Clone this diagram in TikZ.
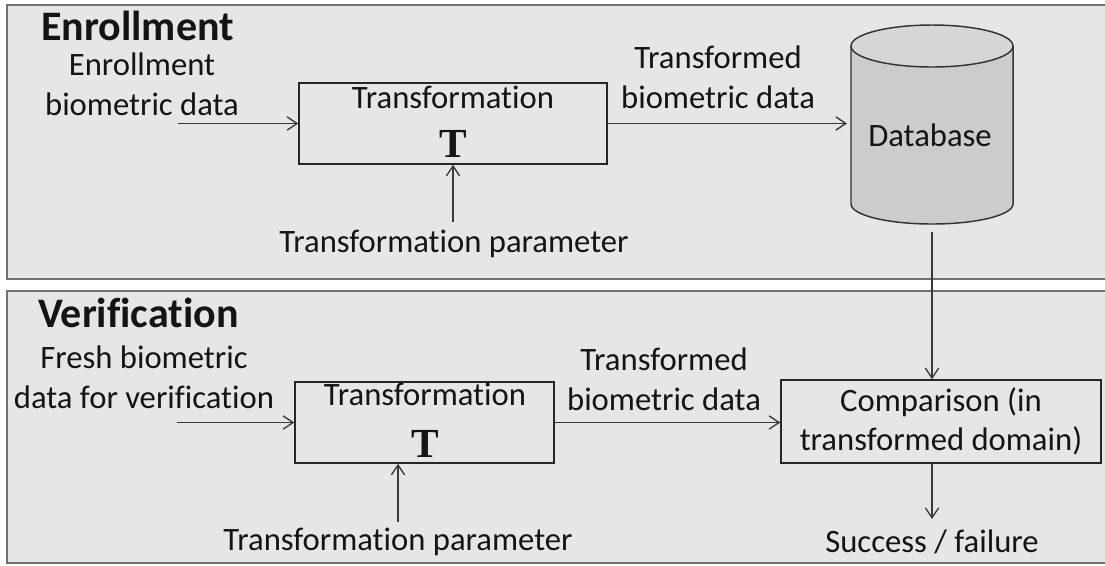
\documentclass[tikz,border=0pt]{standalone}
\usepackage{fontspec}
\setmainfont{Carlito}[Ligatures=NoCommon]
\newfontfamily\serifT{Liberation Serif}
\usetikzlibrary{arrows.meta}
\definecolor{panelfill}{HTML}{E6E6E6}
\definecolor{panelline}{HTML}{707070}
\definecolor{dbbody}{HTML}{CCCCCC}
\definecolor{dbtop}{HTML}{D6D6D6}
\definecolor{arrowc}{HTML}{3A3A3A}
\definecolor{txt}{HTML}{141414}
\begin{document}
\begin{tikzpicture}[x=0.75pt,y=-0.75pt,
  panel/.style={fill=panelfill,draw=panelline,line width=2.2pt},
  procbox/.style={draw=black!85,line width=1.1pt,inner sep=0pt,rectangle},
  lbl/.style={font=\fontsize{24.5}{29.5}\selectfont,align=center,inner sep=0pt,anchor=base,text=txt},
  paneltitle/.style={font=\fontsize{31.5}{36}\selectfont\bfseries,inner sep=0pt,anchor=base west,text=txt},
  bigT/.style={font=\fontsize{31}{36}\selectfont\serifT\bfseries,inner sep=0pt,anchor=base,text=txt},
  flow/.style={draw=arrowc,line width=1pt,-{Straight Barb[length=7.5pt,width=10pt]}},
]
\useasboundingbox (0,0) rectangle (1105,565);
\fill[white] (0,0) rectangle (1105,565);
% panels
\draw[panel] (7,5) rectangle (1112,279);
\draw[panel] (7,291) rectangle (1112,563);

% titles
\node[paneltitle] (ttl1) at (41,40) {Enrollment};
\node[paneltitle] (ttl2) at (38,327) {Verification};

% ---------- Enrollment ----------
\node[lbl] (src1) at (142,115) {Enrollment\\biometric data};
\node[procbox,minimum width=231pt,minimum height=60.75pt] (tf1) at (453,123.5) {};
\node[lbl] (tt1) at (453,108) {Transformation};
\node[bigT] (T1) at (453,157) {T};
\node[lbl] (par1) at (454,252) {Transformation parameter};
\node[lbl] (out1) at (718,108) {Transformed\\biometric data};

% database cylinder
\fill[dbbody] (851,46) -- (851,204) arc[start angle=180,end angle=0,x radius=81,y radius=20] -- (1013,46) -- cycle;
\draw[line width=1.1pt,draw=black!80] (851,46) -- (851,204) arc[start angle=180,end angle=0,x radius=81,y radius=20] -- (1013,46);
\filldraw[fill=dbtop,draw=black!80,line width=1.1pt] (932,46) ellipse [x radius=81,y radius=21];
\node[lbl] (db) at (930,146) {Database};

\coordinate (in1) at (178,123.5);
\coordinate (dbin) at (847,123.5);
\coordinate (p1) at (453,222);
\coordinate (dbout) at (932,232);

\draw[flow] (in1) -- (tf1.west);
\draw[flow] (tf1.east) -- (dbin);
\draw[flow] (p1) -- (tf1.south);

% ---------- Verification ----------
\node[lbl] (src2) at (144,408) {Fresh biometric\\data for verification};
\node[procbox,minimum width=194.25pt,minimum height=60.75pt] (tf2) at (424.5,422.5) {};
\node[lbl] (tt2) at (425,405) {Transformation};
\node[bigT] (T2) at (425,457) {T};
\node[lbl] (par2) at (398,550) {Transformation parameter};
\node[lbl] (out2) at (664,410) {Transformed\\biometric data};
\node[procbox,minimum width=240pt,minimum height=62.25pt,font=\fontsize{24.5}{29.5}\selectfont,align=center,text=txt] (cmp) at (941,421.5) {Comparison (in\\transformed domain)};
\node[lbl] (res) at (932,552) {Success / failure};

\coordinate (in2) at (177,422.5);
\coordinate (p2) at (398,522);
\coordinate (rtop) at (932,519);

\draw[flow] (in2) -- (tf2.west);
\draw[flow] (tf2.east) -- (tf2.east -| cmp.west);
\draw[flow] (p2) -- (p2 |- tf2.south);
\draw[flow] (dbout) -- (dbout |- cmp.north);
\draw[flow] (rtop |- cmp.south) -- (rtop);
\end{tikzpicture}
\end{document}
